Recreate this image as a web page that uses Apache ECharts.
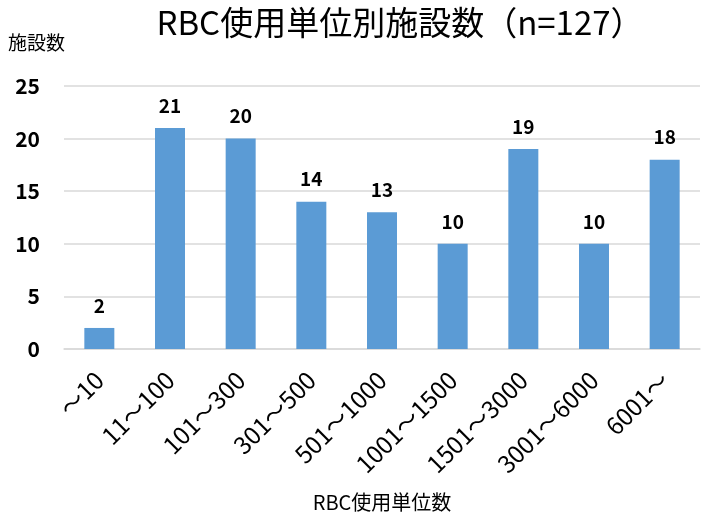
<!DOCTYPE html>
<html>
<head>
<meta charset="utf-8">
<script src="https://cdn.jsdelivr.net/npm/echarts@6/dist/echarts.min.js"></script>
<style>
  html, body { margin: 0; padding: 0; background: #fff; }
  #chart { width: 701px; height: 520px; }
</style>
</head>
<body>
<div id="chart"></div>
<script>
const categories = ["～10", "11～100", "101～300", "301～500", "501～1000", "1001～1500", "1501～3000", "3001～6000", "6001～"];
const counts = [2, 21, 20, 14, 13, 10, 19, 10, 18];
const yTicks = [0, 5, 10, 15, 20, 25];

const font = "'Noto Sans CJK JP', sans-serif";
const chart = echarts.init(document.getElementById("chart"));

chart.setOption({
  animation: false,
  title: {
    text: "RBC使用単位別施設数（n=127）",
    left: 395,
    top: 1,
    textAlign: "center",
    textStyle: { fontFamily: font, fontSize: 33, fontWeight: "normal", color: "#000" }
  },
  grid: { left: 64, right: 1, top: 86, bottom: 171 },
  xAxis: {
    type: "category",
    data: categories,
    name: "RBC使用単位数",
    nameLocation: "middle",
    nameGap: 143,
    nameTextStyle: { fontFamily: font, fontSize: 20, color: "#000" },
    axisLine: { lineStyle: { color: "#d9d9d9", width: 1.5 } },
    axisTick: { show: false },
    axisLabel: {
      interval: 0,
      rotate: 45,
      margin: 27,
      fontFamily: font,
      fontSize: 24,
      color: "#000"
    }
  },
  yAxis: {
    type: "value",
    min: yTicks[0],
    max: yTicks[yTicks.length - 1],
    interval: 5,
    name: "施設数",
    nameLocation: "end",
    nameGap: 34,
    nameTextStyle: { fontFamily: font, fontSize: 19, color: "#000", align: "left", padding: [0, 0, 0, -56] },
    axisLine: { show: false },
    axisTick: { show: false },
    axisLabel: { fontFamily: font, fontSize: 21, fontWeight: "bold", color: "#000", margin: 24 },
    splitLine: { lineStyle: { color: "#d9d9d9", width: 1.5 } }
  },
  series: [{
    type: "bar",
    data: counts,
    barWidth: 30,
    itemStyle: { color: "#5b9bd5" },
    label: {
      show: true,
      position: "top",
      distance: 13,
      fontFamily: font,
      fontSize: 19,
      fontWeight: "bold",
      color: "#000"
    }
  }]
});
</script>
</body>
</html>
